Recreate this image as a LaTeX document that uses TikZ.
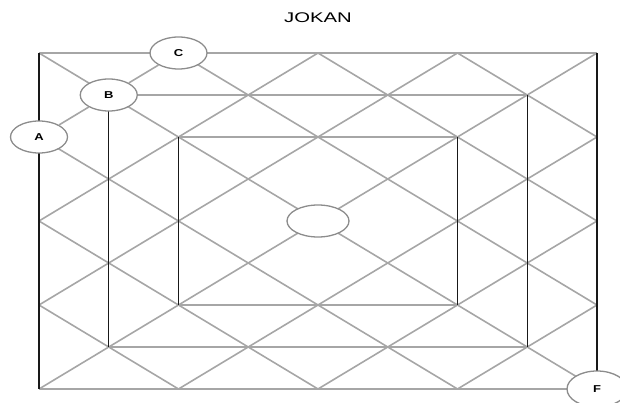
\documentclass[tikz,border=0pt]{standalone}
\usepackage{fontspec}
\setmainfont{Liberation Sans}
\usepackage{tikz}
\usetikzlibrary{shapes.geometric}

\tikzset{
    diag/.style={black!35, line width=1.6pt},
    post/.style={black!90, line width=1.4pt},
    spot/.style={ellipse, draw=black!45, line width=1.3pt, fill=white,
        minimum width=57pt, minimum height=32pt, inner sep=0pt,
        font=\bfseries\fontsize{10}{10}\selectfont}
}

\begin{document}
\begin{tikzpicture}[x=1pt, y=-1pt]
    % Fix the page to the size of the reference
    \useasboundingbox (0,0) rectangle (620,403);

    % Title above the board
    \node (title) at (318,18) {\fontsize{14}{14}\selectfont\scalebox{1.45}[1]{JOKAN}};

    % The board: 8 by 8 cells, in grid units
    \begin{scope}[shift={(39,53)}, x=69.75pt, y=-42pt]
        % Diagonals going up to the right (i+j constant)
        \foreach \s in {4,6,...,14} {
            \pgfmathsetmacro\ia{max(0,\s-8)}
            \pgfmathsetmacro\ja{min(\s,8)}
            \draw[diag] (\ia,\ja) -- (\ja,\ia);
        }
        % Diagonals going down to the right (i-j constant)
        \foreach \d in {-6,-4,...,6} {
            \pgfmathsetmacro\ia{max(0,\d)}
            \pgfmathsetmacro\ja{max(0,-\d)}
            \pgfmathsetmacro\ib{min(8,8+\d)}
            \pgfmathsetmacro\jb{min(8,8-\d)}
            \draw[diag] (\ia,\ja) -- (\ib,\jb);
        }

        % Three nested rectangles: grey rows, dark posts
        \foreach \r in {0,1,2} {
            \pgfmathsetmacro\q{8-\r}
            \draw[diag] (\r,\r) -- (\q,\r);
            \draw[diag] (\r,\q) -- (\q,\q);
            \draw[post] (\r,\r) -- (\r,\q);
            \draw[post] (\q,\r) -- (\q,\q);
        }

        % The marked points
        \node[spot] (A) at (0,2) {\scalebox{1.3}[1]{A}};
        \node[spot] (B) at (1,1) {\scalebox{1.3}[1]{B}};
        \node[spot] (C) at (2,0) {\scalebox{1.3}[1]{C}};
        \node[spot, minimum width=62pt] (mid) at (4,4) {};
        \node[spot, minimum width=60pt, minimum height=36pt] (F) at (8,8) {\scalebox{1.3}[1]{F}};
    \end{scope}

    % Short diagonal through A, B and C
    \draw[diag] (A) -- (B);
    \draw[diag] (B) -- (C);
\end{tikzpicture}
\end{document}
